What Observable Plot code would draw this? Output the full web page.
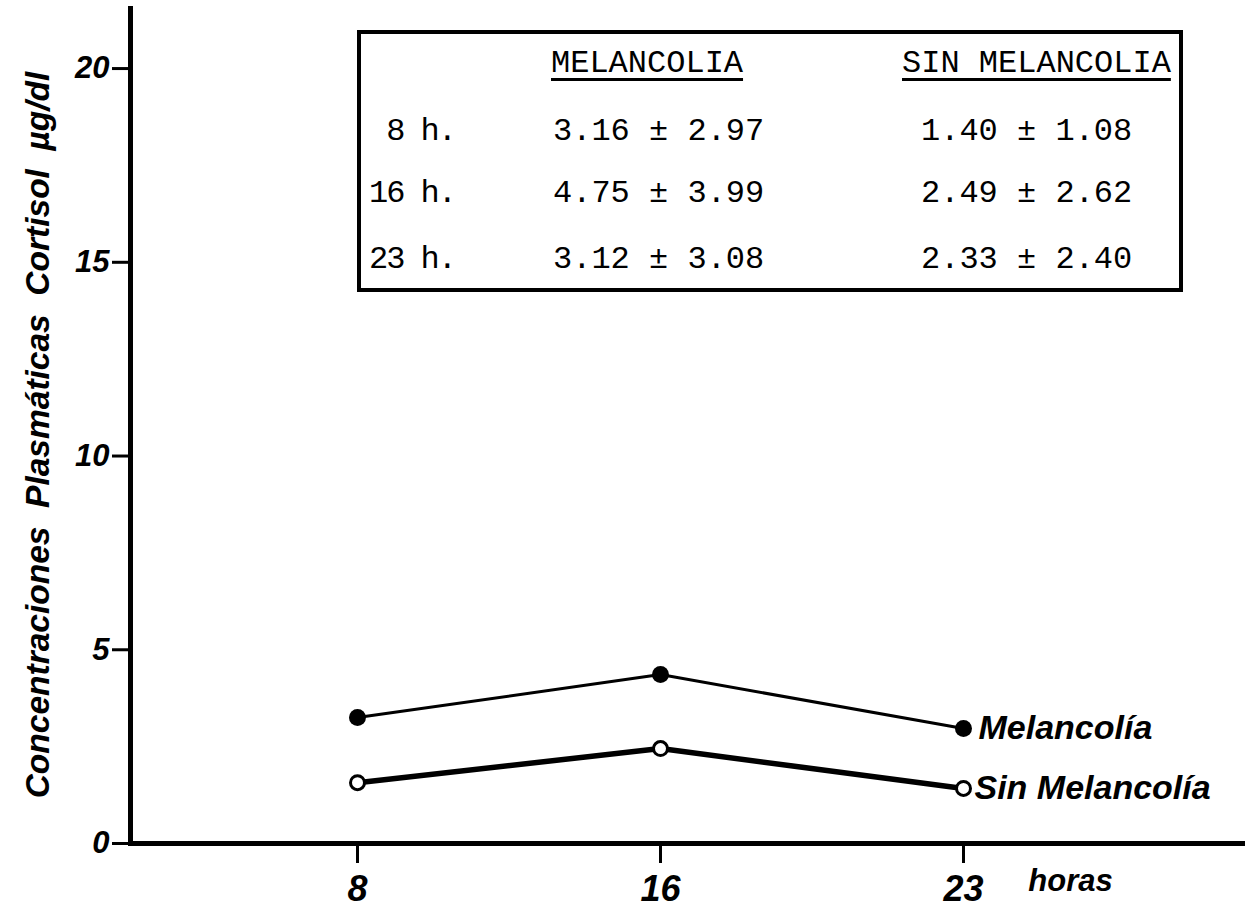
<!DOCTYPE html>
<html>
<head>
<meta charset="utf-8">
<script src="https://cdn.jsdelivr.net/npm/d3@7"></script>
<script src="https://cdn.jsdelivr.net/npm/@observablehq/plot@0.6"></script>
<style>
  body { margin: 0; background: #fff; }
  #wrap { position: relative; width: 1252px; height: 912px; overflow: hidden; }
  #tbl {
    position: absolute; left: 357px; top: 30px; width: 818px; height: 254px;
    border: 4px solid #000; background: #fff;
    font-family: "Liberation Mono", "DejaVu Sans Mono", monospace; font-size: 32px; color: #000;
  }
  #tbl div { position: absolute; white-space: pre; line-height: 1; }
  #tbl .hdr { text-decoration: underline; text-decoration-thickness: 3px; text-underline-offset: 6px; }
  #tbl .rl { text-align: right; width: 94px; left: 0; letter-spacing: -2px; }
</style>
</head>
<body>
<div id="wrap"></div>
<script>
// ---- data ----
const horas = ["8", "16", "23"];
const melancolia = [3.25, 4.36, 2.97];
const sinMelancolia = [1.57, 2.45, 1.42];
const yTicks = [0, 5, 10, 15, 20];
const serieNombres = ["Melancolía", "Sin Melancolía"];
const yLabel = "Concentraciones  Plasmáticas  Cortisol  µg/dl";
const xLabel = "horas";
// table
const tablaFilas = ["8 h.", "16 h.", "23 h."];
const tablaColumnas = ["MELANCOLIA", "SIN MELANCOLIA"];
const melMedia = ["3.16", "4.75", "3.12"];
const melDE = ["2.97", "3.99", "3.08"];
const sinMedia = ["1.40", "2.49", "2.33"];
const sinDE = ["1.08", "2.62", "2.40"];

const melData = horas.map((h, i) => ({hora: h, valor: melancolia[i]}));
const sinData = horas.map((h, i) => ({hora: h, valor: sinMelancolia[i]}));

const F = '"Liberation Sans", Arial, sans-serif';
const txt = {fontFamily: F, fontStyle: "italic", fontWeight: "bold", fill: "black"};

const chart = Plot.plot({
  width: 1252, height: 912,
  marginLeft: 130, marginRight: 7, marginTop: 8, marginBottom: 69,
  style: {background: "white", color: "black", overflow: "visible"},
  x: {type: "point", domain: horas, range: [357, 963], padding: 0},
  y: {domain: [0, 21.55]},
  marks: [
    Plot.axisY({ticks: yTicks, tickSize: 18, strokeWidth: 3, tickPadding: 3, fontSize: 31,
      fontFamily: F, fontStyle: "italic", fontWeight: "bold", label: null}),
    Plot.axisX({tickSize: 20, strokeWidth: 3, tickPadding: 12, fontSize: 36,
      fontFamily: F, fontStyle: "italic", fontWeight: "bold", label: null}),
    Plot.frame({anchor: "left", strokeWidth: 5}),
    Plot.ruleY([0], {strokeWidth: 5}),
    Plot.line(melData, {x: "hora", y: "valor", strokeWidth: 3}),
    Plot.line(sinData, {x: "hora", y: "valor", strokeWidth: 5.5}),
    Plot.dot(melData, {x: "hora", y: "valor", r: 8.5, fill: "black", stroke: "none"}),
    Plot.dot(sinData, {x: "hora", y: "valor", r: 7, fill: "white", stroke: "black", strokeWidth: 3}),
    Plot.text([melData[melData.length - 1]], {x: "hora", y: "valor", text: () => serieNombres[0],
      textAnchor: "start", dx: 15, fontSize: 34, ...txt}),
    Plot.text([sinData[sinData.length - 1]], {x: "hora", y: "valor", text: () => serieNombres[1],
      textAnchor: "start", dx: 11, fontSize: 34, ...txt}),
    Plot.text([xLabel], {frameAnchor: "bottom-right", textAnchor: "middle", dx: -175, dy: 47,
      fontSize: 31, ...txt}),
    Plot.text([yLabel], {frameAnchor: "left", textAnchor: "middle", rotate: -90, dx: -92, dy: 9,
      fontSize: 33.5, ...txt})
  ]
});

const wrap = document.getElementById("wrap");
wrap.appendChild(chart);

// ---- table overlay ----
const tbl = document.createElement("div");
tbl.id = "tbl";
wrap.appendChild(tbl);
function cell(text, left, top, cls) {
  const d = document.createElement("div");
  d.textContent = text;
  if (cls) d.className = cls;
  if (left !== null) d.style.left = left + "px";
  d.style.top = top + "px";
  tbl.appendChild(d);
}
cell(tablaColumnas[0], 190, 14, "hdr");
cell(tablaColumnas[1], 541, 14, "hdr");
const rowTops = [82, 144, 210];
tablaFilas.forEach((f, i) => {
  cell(f, null, rowTops[i], "rl");
  cell(`${melMedia[i]} ± ${melDE[i]}`, 192, rowTops[i]);
  cell(`${sinMedia[i]} ± ${sinDE[i]}`, 560, rowTops[i]);
});
</script>
</body>
</html>
